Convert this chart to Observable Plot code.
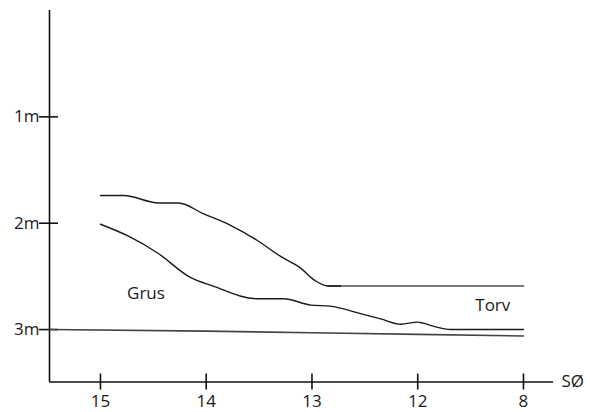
<!DOCTYPE html>
<html><head><meta charset="utf-8">
<script src="https://cdn.jsdelivr.net/npm/d3@7"></script>
<script src="https://cdn.jsdelivr.net/npm/@observablehq/plot@0.6"></script>
<style>body{margin:0;background:#fff}</style>
</head><body><div id="chart"></div>
<script>
// Station labels along the profile (equally spaced positions 0..4)
const xPositions = [0, 1, 2, 3, 4];
const xLabels = ["15", "14", "13", "12", "8"];
const axisEndLabel = "SØ";
// Depth ticks (m)
const yTicks = [1, 2, 3];
const yLabels = ["1m", "2m", "3m"];
// Axis extents (position units / metres)
const xMin = -0.482, xMax = 4.284;
const yMin = 0, yMax = 3.493;

// Upper boundary (top of Torv), sloping part
const topSlopeX = [0, 0.22, 0.55, 0.74, 0.97, 1.23, 1.48, 1.70, 1.89, 2.03, 2.15, 2.27];
const topSlopeY = [1.74, 1.74, 1.81, 1.81, 1.91, 2.02, 2.16, 2.31, 2.42, 2.54, 2.59, 2.59];
// Upper boundary, flat part
const topFlatX = [2.15, 4.0];
const topFlatY = [2.59, 2.59];
// Lower boundary (top of Grus / bottom of Torv)
const midX = [0, 0.26, 0.54, 0.85, 1.06, 1.48, 1.73, 1.99, 2.17, 2.46, 2.65, 2.84, 3.00, 3.05, 3.19, 3.31, 4.0];
const midY = [2.01, 2.12, 2.28, 2.51, 2.59, 2.71, 2.71, 2.77, 2.78, 2.85, 2.90, 2.95, 2.93, 2.94, 2.98, 3.00, 3.00];
// Base line near 3 m
const baseX = [-0.482, 1.0, 2.0, 3.0, 4.0];
const baseY = [3.0, 3.015, 3.03, 3.045, 3.06];
// Layer names
const layerNames = ["Grus", "Torv"];
const layerX = [0.43, 3.71];
const layerY = [2.66, 2.77];

const pts = (xs, ys) => xs.map((x, i) => ({x, y: ys[i]}));
const font = "'Open Sans', 'DejaVu Sans', sans-serif";

const chart = Plot.plot({
  width: 590,
  height: 412,
  marginLeft: 49,
  marginRight: 37,
  marginTop: 10,
  marginBottom: 30.5,
  style: {fontFamily: font, background: "#fff"},
  x: {domain: [xMin, xMax], axis: null},
  y: {domain: [yMin, yMax], reverse: true, axis: null},
  marks: [
    // axes
    Plot.ruleX([xMin], {x: d => d, stroke: "#111", strokeWidth: 1.6}),
    Plot.ruleY([yMax], {y: d => d, stroke: "#111", strokeWidth: 1.6}),
    Plot.ruleX(xPositions, {x: d => d, y1: () => yMax, y2: () => yMax, insetTop: -8, insetBottom: -8, stroke: "#111", strokeWidth: 1.6}),
    Plot.ruleY(yTicks, {y: d => d, x1: () => xMin, x2: () => xMin, insetLeft: -10, insetRight: -9, stroke: "#111", strokeWidth: 1.6}),
    Plot.text(xPositions, {x: d => d, y: () => yMax, text: (d, i) => xLabels[i], dy: 20, fontSize: 17, fill: "#1a1a1a"}),
    Plot.text(yTicks, {x: () => xMin, y: d => d, text: (d, i) => yLabels[i], dx: -10, textAnchor: "end", fontSize: 17, fill: "#1a1a1a"}),
    Plot.text([axisEndLabel], {x: () => xMax, y: () => yMax, text: d => d, dx: 8, textAnchor: "start", fontSize: 17, fill: "#1a1a1a"}),
    // profile lines
    Plot.line(pts(baseX, baseY), {x: "x", y: "y", stroke: "#444", strokeWidth: 1.6}),
    Plot.line(pts(topFlatX, topFlatY), {x: "x", y: "y", stroke: "#777", strokeWidth: 2}),
    Plot.line(pts(topSlopeX, topSlopeY), {x: "x", y: "y", stroke: "#1a1a1a", strokeWidth: 1.4, curve: "monotone-x"}),
    Plot.line(pts(midX, midY), {x: "x", y: "y", stroke: "#1a1a1a", strokeWidth: 1.4, curve: "monotone-x"}),
    // layer names
    Plot.text(layerNames, {x: (d, i) => layerX[i], y: (d, i) => layerY[i], text: d => d, fontSize: 17, fill: "#1a1a1a"})
  ]
});
document.getElementById("chart").append(chart);
</script>
</body></html>
